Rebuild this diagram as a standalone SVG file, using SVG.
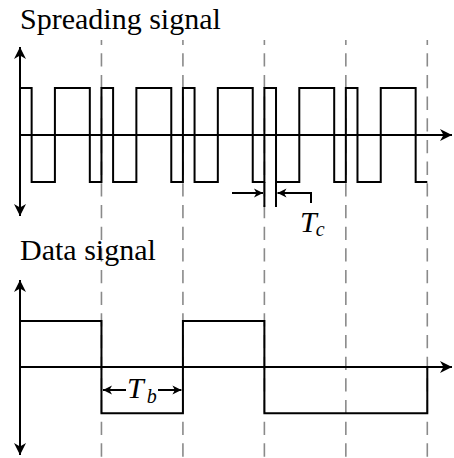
<svg xmlns="http://www.w3.org/2000/svg" width="454" height="458" viewBox="0 0 454 458">
<style>
.sig{fill:none;stroke:#000;stroke-width:2;stroke-linejoin:miter}
.ax{fill:none;stroke:#000;stroke-width:2}
.dash{fill:none;stroke:#8a8a8a;stroke-width:1.6;stroke-dasharray:13.3 8.37;stroke-dashoffset:8.4}
.ttl{font-family:"Liberation Serif","Times New Roman",serif;font-size:30px;fill:#000}
.lbl{font-family:"Liberation Serif","Times New Roman",serif;font-style:italic;font-size:30px;fill:#000}
.sub{font-size:20px}
</style>
<defs>
<marker id="big" viewBox="-13 -7 14 14" refX="0" refY="0" markerWidth="14" markerHeight="14" markerUnits="userSpaceOnUse" orient="auto-start-reverse">
<path d="M0,0 L-12,-6 L-8.5,0 L-12,6 Z" fill="#000"/>
</marker>
<marker id="small" viewBox="-10 -5 11 10" refX="0" refY="0" markerWidth="11" markerHeight="10" markerUnits="userSpaceOnUse" orient="auto">
<path d="M0,0 L-9,-4.5 L-6.5,0 L-9,4.5 Z" fill="#000"/>
</marker>
</defs>
<g id="grid">
<line class="dash" x1="101.46" y1="40" x2="101.46" y2="458"/>
<line class="dash" x1="182.92" y1="40" x2="182.92" y2="458"/>
<line class="dash" x1="264.38" y1="40" x2="264.38" y2="458"/>
<line class="dash" x1="345.84" y1="40" x2="345.84" y2="458"/>
<line class="dash" x1="427.3" y1="40" x2="427.3" y2="458"/>
</g>
<g id="spreading">
<text class="ttl" x="20" y="29">Spreading signal</text>
<path class="sig" d="M20,88 H31.64 V182 H54.91 V88 H89.82 V182 H101.46 V88 H113.10 V182 H136.37 V88 H171.28 V182 H182.92 V88 H194.56 V182 H217.83 V88 H252.74 V182 H264.38 V88 H276.02 V182 H299.29 V88 H334.20 V182 H345.84 V88 H357.48 V182 H380.75 V88 H415.66 V182 H427.3"/>
<line class="ax" x1="20" y1="47" x2="20" y2="216" marker-start="url(#big)" marker-end="url(#big)"/>
<line class="ax" x1="20" y1="135" x2="452" y2="135" marker-end="url(#big)"/>
</g>
<g id="tc">
<line class="sig" x1="264.38" y1="182" x2="264.38" y2="207"/>
<line class="sig" x1="276.02" y1="182" x2="276.02" y2="207"/>
<line class="sig" x1="232" y1="193" x2="263" y2="193" marker-end="url(#small)"/>
<polyline class="sig" points="311,203 311,193 277.5,193" marker-end="url(#small)"/>
<text class="lbl" x="300" y="232">T<tspan class="sub" dx="-1" dy="4">c</tspan></text>
</g>
<g id="data">
<text class="ttl" x="20" y="260">Data signal</text>
<path class="sig" d="M20,321 H101.46 V413.3 H182.92 V321 H264.38 V413.3 H427.3 V367"/>
<line class="ax" x1="20" y1="280" x2="20" y2="455" marker-start="url(#big)" marker-end="url(#big)"/>
<line class="ax" x1="20" y1="367" x2="452" y2="367" marker-end="url(#big)"/>
</g>
<g id="tb">
<line class="sig" x1="126" y1="390" x2="103" y2="390" marker-end="url(#small)"/>
<line class="sig" x1="158" y1="390" x2="181.4" y2="390" marker-end="url(#small)"/>
<text class="lbl" x="127" y="398">T<tspan class="sub" dx="3" dy="5">b</tspan></text>
</g>
</svg>
